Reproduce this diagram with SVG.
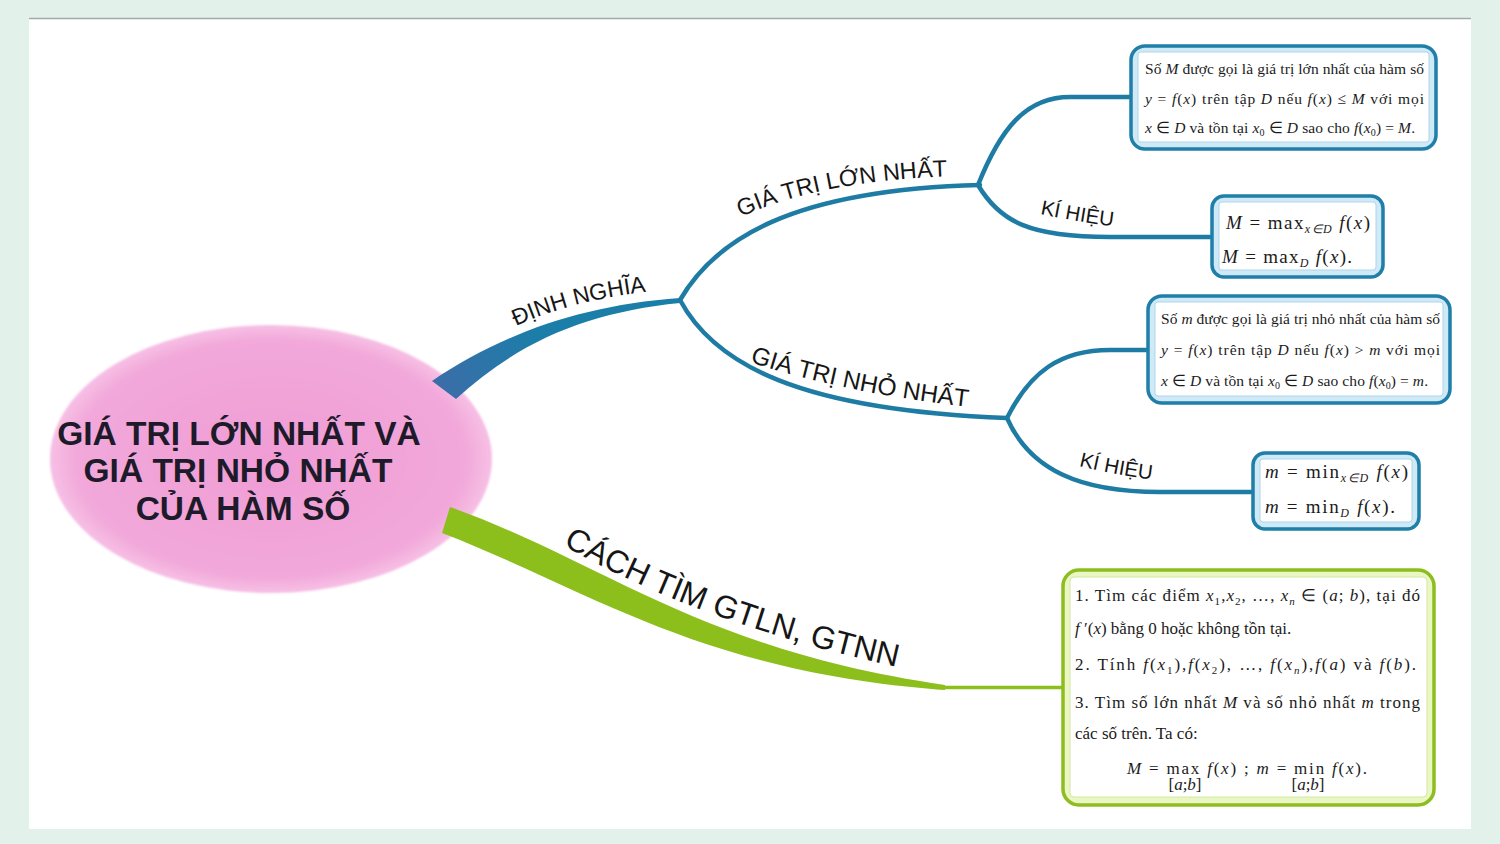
<svg xmlns="http://www.w3.org/2000/svg" width="1500" height="844" viewBox="0 0 1500 844">
<defs>
<style>
.bt{font-family:"Liberation Serif","Times New Roman",serif;font-size:15.5px;fill:#1b1b1b}
.bt5{font-family:"Liberation Serif","Times New Roman",serif;font-size:17px;fill:#1b1b1b}
.mt{font-family:"Liberation Serif","Times New Roman",serif;font-size:19px;fill:#1b1b1b}
.i{font-style:italic}
.lab{font-family:"Liberation Sans",Arial,sans-serif;fill:#161616}
.ctr{font-family:"Liberation Sans",Arial,sans-serif;font-weight:bold;font-size:33.5px;fill:#1d1b2a;text-anchor:middle}
.bbox{fill:#CFE9F6;stroke:#1F7FA9;stroke-width:3.5}
.gbox{fill:#EAF6C4;stroke:#8EBD1F;stroke-width:3.5}
.inb{fill:#ffffff;stroke:#AED6EA;stroke-width:1}
.ing{fill:#ffffff;stroke:#D2E8A0;stroke-width:1}
.thin{fill:none;stroke:#1E7CA4;stroke-width:4.5;stroke-linecap:round}
</style>
<radialGradient id="pinkG" cx="0.5" cy="0.5" r="0.5">
<stop offset="0" stop-color="#F09DD5"/>
<stop offset="0.88" stop-color="#F2A8DA"/>
<stop offset="1" stop-color="#F6C0E5"/>
</radialGradient>
<linearGradient id="blueG" gradientUnits="userSpaceOnUse" x1="435" y1="390" x2="540" y2="330">
<stop offset="0" stop-color="#3D6DA8"/>
<stop offset="1" stop-color="#1A7EA8"/>
</linearGradient>
<filter id="soft" x="-5%" y="-5%" width="110%" height="110%">
<feGaussianBlur stdDeviation="0.8"/>
</filter>
<path id="lp1" d="M 516 326 Q 577 298 664 290"/>
<path id="lp2" d="M 741 217 Q 820 180 958 176"/>
<path id="lp3" d="M 750 362 Q 850 395 988 409"/>
<path id="lpK1" d="M 1040 214 Q 1078 222 1118 227"/>
<path id="lpK2" d="M 1079 466 Q 1115 475 1156 480"/>
<path id="lpC" d="M 563 545 Q 700 625 915 671"/>
</defs>

<rect x="0" y="0" width="1500" height="844" fill="#E2F2EA"/>
<rect x="29" y="18" width="1442" height="811" fill="#ffffff"/>
<line x1="29" y1="18.5" x2="1471" y2="18.5" stroke="#A3ABA7" stroke-width="1.5"/>

<g id="central">
<ellipse cx="271" cy="459" rx="221" ry="134" fill="url(#pinkG)" filter="url(#soft)"/>
<text class="ctr" x="239" y="445">GIÁ TRỊ LỚN NHẤT VÀ</text>
<text class="ctr" x="238" y="482">GIÁ TRỊ NHỎ NHẤT</text>
<text class="ctr" x="243" y="520">CỦA HÀM SỐ</text>
</g>

<g id="connectors">
<path d="M 432 381 C 500 335, 580 305, 680 298 L 680 303 C 590 312, 520 340, 456 399 Z" fill="url(#blueG)"/>
<path class="thin" d="M 680 300 C 715 240, 790 190, 980 185"/>
<path class="thin" d="M 680 300 C 715 365, 800 410, 1007 418"/>
<path class="thin" d="M 978 185 C 1000 130, 1025 97, 1070 97 L 1131 97"/>
<path class="thin" d="M 978 185 C 1000 222, 1030 237, 1110 237 L 1213 237"/>
<path class="thin" d="M 1007 418 C 1030 372, 1060 350, 1110 350 L 1149 350"/>
<path class="thin" d="M 1007 418 C 1030 470, 1080 492, 1160 492 L 1254 492"/>
<path d="M 450 507 C 600 560, 700 650, 945 685 L 945 690 C 700 672, 590 590, 442 533 Z" fill="#8CBF1C"/>
<path d="M 935 687.5 L 1064 687.5" fill="none" stroke="#8CBF1C" stroke-width="3.5"/>
</g>

<g id="labels">
<text class="lab" font-size="23"><textPath href="#lp1">ĐỊNH NGHĨA</textPath></text>
<text class="lab" font-size="23.5"><textPath href="#lp2">GIÁ TRỊ LỚN NHẤT</textPath></text>
<text class="lab" font-size="24.5"><textPath href="#lp3">GIÁ TRỊ NHỎ NHẤT</textPath></text>
<text class="lab" font-size="20.5"><textPath href="#lpK1">KÍ HIỆU</textPath></text>
<text class="lab" font-size="20.5"><textPath href="#lpK2">KÍ HIỆU</textPath></text>
<text class="lab" font-size="32"><textPath href="#lpC">CÁCH TÌM GTLN, GTNN</textPath></text>
</g>

<g id="box-max-def">
<rect class="bbox" x="1131" y="46" width="305" height="103" rx="14"/>
<rect class="inb" x="1138" y="52" width="291" height="90" rx="3"/>
<text class="bt" x="1145" y="74" textLength="279" lengthAdjust="spacing">Số <tspan class="i">M</tspan> được gọi là giá trị lớn nhất của hàm số</text>
<text class="bt" x="1145" y="104" textLength="279" lengthAdjust="spacing"><tspan class="i">y</tspan> = <tspan class="i">f</tspan>(<tspan class="i">x</tspan>) trên tập <tspan class="i">D</tspan> nếu <tspan class="i">f</tspan>(<tspan class="i">x</tspan>) ≤ <tspan class="i">M</tspan> với mọi</text>
<text class="bt" x="1145" y="133" textLength="270" lengthAdjust="spacing"><tspan class="i">x</tspan> ∈ <tspan class="i">D</tspan> và tồn tại <tspan class="i">x</tspan><tspan font-size="10" dy="3">0</tspan><tspan dy="-3"> ∈ </tspan><tspan class="i">D</tspan> sao cho <tspan class="i">f</tspan>(<tspan class="i">x</tspan><tspan font-size="10" dy="3">0</tspan><tspan dy="-3">) = </tspan><tspan class="i">M</tspan>.</text>
</g>

<g id="box-max-sym">
<rect class="bbox" x="1212" y="196" width="171" height="81" rx="12"/>
<rect class="inb" x="1219" y="202" width="157" height="68" rx="3"/>
<text class="mt" x="1226" y="229" textLength="144" lengthAdjust="spacing"><tspan class="i">M</tspan> = max<tspan font-size="12" dy="4" class="i">x∈D</tspan><tspan dy="-4"> </tspan><tspan class="i">f</tspan>(<tspan class="i">x</tspan>)</text>
<text class="mt" x="1222" y="263" textLength="130" lengthAdjust="spacing"><tspan class="i">M</tspan> = max<tspan font-size="12" dy="4" class="i">D</tspan><tspan dy="-4"> </tspan><tspan class="i">f</tspan>(<tspan class="i">x</tspan>).</text>
</g>

<g id="box-min-def">
<rect class="bbox" x="1148" y="296" width="302" height="107" rx="14"/>
<rect class="inb" x="1155" y="302" width="288" height="94" rx="3"/>
<text class="bt" x="1161" y="324" textLength="279" lengthAdjust="spacing">Số <tspan class="i">m</tspan> được gọi là giá trị nhỏ nhất của hàm số</text>
<text class="bt" x="1161" y="355" textLength="279" lengthAdjust="spacing"><tspan class="i">y</tspan> = <tspan class="i">f</tspan>(<tspan class="i">x</tspan>) trên tập <tspan class="i">D</tspan> nếu <tspan class="i">f</tspan>(<tspan class="i">x</tspan>) &gt; <tspan class="i">m</tspan> với mọi</text>
<text class="bt" x="1161" y="386" textLength="267" lengthAdjust="spacing"><tspan class="i">x</tspan> ∈ <tspan class="i">D</tspan> và tồn tại <tspan class="i">x</tspan><tspan font-size="10" dy="3">0</tspan><tspan dy="-3"> ∈ </tspan><tspan class="i">D</tspan> sao cho <tspan class="i">f</tspan>(<tspan class="i">x</tspan><tspan font-size="10" dy="3">0</tspan><tspan dy="-3">) = </tspan><tspan class="i">m</tspan>.</text>
</g>

<g id="box-min-sym">
<rect class="bbox" x="1253" y="453" width="166" height="76" rx="12"/>
<rect class="inb" x="1260" y="459" width="152" height="63" rx="3"/>
<text class="mt" x="1265" y="478" textLength="143" lengthAdjust="spacing"><tspan class="i">m</tspan> = min<tspan font-size="12" dy="4" class="i">x∈D</tspan><tspan dy="-4"> </tspan><tspan class="i">f</tspan>(<tspan class="i">x</tspan>)</text>
<text class="mt" x="1265" y="513" textLength="130" lengthAdjust="spacing"><tspan class="i">m</tspan> = min<tspan font-size="12" dy="4" class="i">D</tspan><tspan dy="-4"> </tspan><tspan class="i">f</tspan>(<tspan class="i">x</tspan>).</text>
</g>

<g id="box-method">
<rect class="gbox" x="1063" y="570" width="371" height="235" rx="16"/>
<rect class="ing" x="1070" y="577" width="357" height="220" rx="4"/>
<text class="bt5" x="1075" y="601" textLength="345" lengthAdjust="spacing">1. Tìm các điểm <tspan class="i">x</tspan><tspan font-size="11" dy="4">1</tspan><tspan dy="-4">,</tspan><tspan class="i">x</tspan><tspan font-size="11" dy="4">2</tspan><tspan dy="-4">, …, </tspan><tspan class="i">x</tspan><tspan font-size="11" dy="4" class="i">n</tspan><tspan dy="-4"> ∈ (</tspan><tspan class="i">a</tspan>; <tspan class="i">b</tspan>), tại đó</text>
<text class="bt5" x="1075" y="634"><tspan class="i">f</tspan> ′(<tspan class="i">x</tspan>) bằng 0 hoặc không tồn tại.</text>
<text class="bt5" x="1075" y="670" textLength="341" lengthAdjust="spacing">2. Tính <tspan class="i">f</tspan>(<tspan class="i">x</tspan><tspan font-size="11" dy="4">1</tspan><tspan dy="-4">),</tspan><tspan class="i">f</tspan>(<tspan class="i">x</tspan><tspan font-size="11" dy="4">2</tspan><tspan dy="-4">), …, </tspan><tspan class="i">f</tspan>(<tspan class="i">x</tspan><tspan font-size="11" dy="4" class="i">n</tspan><tspan dy="-4">),</tspan><tspan class="i">f</tspan>(<tspan class="i">a</tspan>) và <tspan class="i">f</tspan>(<tspan class="i">b</tspan>).</text>
<text class="bt5" x="1075" y="708" textLength="345" lengthAdjust="spacing">3. Tìm số lớn nhất <tspan class="i">M</tspan> và số nhỏ nhất <tspan class="i">m</tspan> trong</text>
<text class="bt5" x="1075" y="739">các số trên. Ta có:</text>
<text class="bt5" x="1127" y="774" textLength="240" lengthAdjust="spacing"><tspan class="i">M</tspan> = max <tspan class="i">f</tspan>(<tspan class="i">x</tspan>) ; <tspan class="i">m</tspan> = min <tspan class="i">f</tspan>(<tspan class="i">x</tspan>).</text>
<text class="bt5" x="1185" y="790" font-size="10" text-anchor="middle">[<tspan class="i">a</tspan>;<tspan class="i">b</tspan>]</text>
<text class="bt5" x="1308" y="790" font-size="10" text-anchor="middle">[<tspan class="i">a</tspan>;<tspan class="i">b</tspan>]</text>
</g>
</svg>
